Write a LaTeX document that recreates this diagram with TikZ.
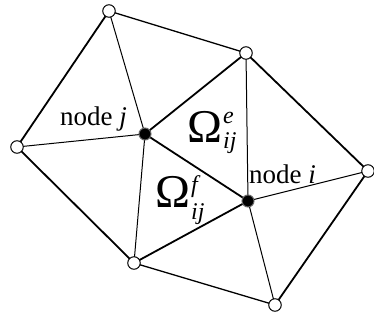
\documentclass[tikz,border=0pt]{standalone}
\usepackage{fontspec}
\setmainfont{Liberation Serif}
\usepackage{tikz}
\usetikzlibrary{positioning,backgrounds}
\newcommand{\idxfont}{\fontsize{24}{24}\selectfont\itshape}
% Omega with superscript (raised by #2) and subscript ij (lowered by #3)
\newcommand{\omegalabel}[3]{Ω\kern1pt\rlap{\raisebox{#2}{\idxfont #1}}\raisebox{-#3}{\idxfont ij}}
\tikzset{
  node-open/.style={draw,fill=white,circle,line width=1pt,minimum size=12.5pt,inner sep=0pt},
  node-solid/.style={draw=black!60,fill=black,circle,line width=1pt,minimum size=12pt,inner sep=0pt},
  edge-thick/.style={line width=1.8pt},
  edge-mid/.style={line width=1.3pt},
  edge-thin/.style={line width=1pt},
  label-node/.style={font=\fontsize{27}{27}\selectfont,inner sep=0pt},
  label-omega/.style={font=\fontsize{47}{47}\selectfont,inner sep=0pt},
}

\begin{document}
\begin{tikzpicture}[x=1pt,y=-1pt]
  \useasboundingbox (0,0) rectangle (374,324);
  % mesh vertices
  \node[node-open] (top) at (109,11) {};
  \node[node-open] (ur) at (246,53) {};
  \node[node-open] (left) at (17,147) {};
  \node[node-solid] (nj) at (145,134) {};
  \node[node-solid] (ni) at (248,201) {};
  \node[node-open] (right) at (368,171) {};
  \node[node-open] (bl) at (134,263) {};
  \node[node-open] (bot) at (275,305) {};
  % edges, kept under the vertices
  \begin{scope}[on background layer]
  \draw[edge-thick] (top.center) -- (left.center);
  \draw[edge-thick] (left.center) -- (bl.center);
  \draw[edge-mid] (bl.center) -- (bot.center);
  \draw[edge-thick] (bot.center) -- (right.center);
  \draw[edge-thick] (right.center) -- (ur.center);
  \draw[edge-mid] (ur.center) -- (top.center);
  \draw[edge-thick] (nj.center) -- (ur.center);
  \draw[edge-thick] (nj.center) -- (ni.center);
  \draw[edge-thick] (ni.center) -- (bl.center);
  \draw[edge-thin] (top.center) -- (nj.center);
  \draw[edge-thin] (left.center) -- (nj.center);
  \draw[edge-thin] (nj.center) -- (bl.center);
  \draw[edge-thin] (ur.center) -- (ni.center);
  \draw[edge-thin] (ni.center) -- (right.center);
  \draw[edge-thin] (ni.center) -- (bot.center);
  \end{scope}
  % labels
  \node[label-node,anchor=base west] (lj) at (60,125) {node \textit{j}};
  \node[label-node,anchor=base west] (li) at (249,183) {node \textit{i}};
  \node[label-omega,anchor=base west] (oe) at (187,142) {\omegalabel{e}{19pt}{6pt}};
  \node[label-omega,anchor=base west] (of) at (155,207) {\omegalabel{f}{15pt}{12pt}};
\end{tikzpicture}
\end{document}
